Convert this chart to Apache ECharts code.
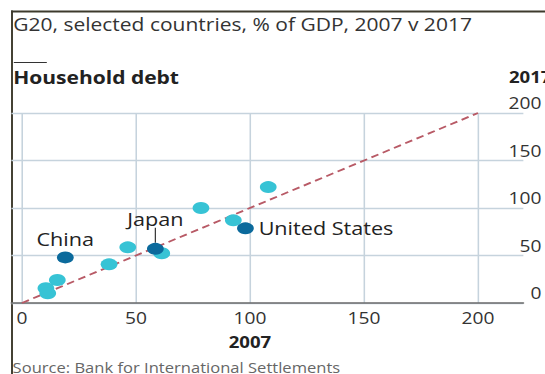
<!DOCTYPE html>
<html><head><meta charset="utf-8">
<script src="https://cdn.jsdelivr.net/npm/echarts@6/dist/echarts.min.js"></script>
<style>html,body{margin:0;padding:0;background:#fff;overflow:hidden}
#c{width:454px;height:374px;transform:scaleX(1.2004);transform-origin:0 0}</style>
</head><body><div id="c"></div>
<script>
// Data: household debt, % of GDP, x = 2007, y = 2017
const otherPoints = [
  [108, 122], [78.5, 100], [92.7, 87], [46.4, 58.6], [61.3, 52.3],
  [38.2, 40.7], [15.5, 24.2], [10.5, 15.5], [11.3, 10.2]
];
const namedCountries = ['China', 'Japan', 'United States'];
const named2007 = [19, 58.5, 98];
const named2017 = [48, 57, 78.6];
const xTicks = [0, 50, 100, 150, 200];
const yTicks = [0, 50, 100, 150, 200];
const parityLine = [[0, 0], [200, 200]];

const font = '"Open Sans", "Noto Sans", sans-serif';
const gridColor = '#c6d3dd';
const chart = echarts.init(document.getElementById('c'), null, {renderer: 'svg'});

const namedData = namedCountries.map((n, i) => {
  const d = {name: n, value: [named2007[i], named2017[i]]};
  if (n === 'China') d.label = {position: 'top', distance: 3};
  if (n === 'Japan') {
    d.label = {position: 'top', distance: 3};
    d.labelLine = {show: true, length2: 0, lineStyle: {color: '#333', width: 1}};
  }
  if (n === 'United States') d.label = {position: 'right', distance: 4};
  return d;
});

chart.setOption({
  animation: false,
  backgroundColor: '#fff',
  grid: [
    {left: 9.5, right: 8.3, top: 113, bottom: 71},
    {left: 18.3, right: 55.8, top: 113, bottom: 71}
  ],
  xAxis: [
    {gridIndex: 0, type: 'value', min: 0, max: 1, show: true,
     axisLine: {show: true, lineStyle: {color: '#6b6b6b', width: 1.5}},
     axisTick: {show: false}, axisLabel: {show: false}, splitLine: {show: false}},
    {gridIndex: 1, type: 'value', min: 0, max: 200, interval: 50,
     name: '2007', nameLocation: 'middle', nameGap: 31,
     nameTextStyle: {fontFamily: font, fontSize: 15.5, fontWeight: 'bold', color: '#222'},
     axisLine: {show: false}, axisTick: {show: false},
     axisLabel: {fontFamily: font, fontSize: 16, color: '#333', margin: 7,
       formatter: v => xTicks.includes(v) ? String(v) : ''},
     splitLine: {show: true, lineStyle: {color: gridColor, width: 1.3}}}
  ],
  yAxis: [
    {gridIndex: 0, type: 'value', min: 0, max: 200, interval: 50, position: 'right',
     axisLine: {show: false}, axisTick: {show: false},
     axisLabel: {fontFamily: font, fontSize: 16, color: '#333', align: 'right',
       verticalAlign: 'bottom', margin: 15, padding: [0, 0, 2, 0],
       formatter: v => yTicks.includes(v) ? String(v) : ''},
     splitLine: {show: true, lineStyle: {color: gridColor, width: 1.3}}},
    {gridIndex: 1, type: 'value', min: 0, max: 200, interval: 50, show: false,
     splitLine: {show: false}}
  ],
  graphic: [
    {type: 'rect', shape: {x: 9.2, y: 10.5, width: 450, height: 2}, style: {fill: '#3d3a2c'}},
    {type: 'rect', shape: {x: 9.2, y: 10.5, width: 1.6, height: 364}, style: {fill: '#3d3a2c'}},
    {type: 'rect', shape: {x: 11.5, y: 62, width: 27.5, height: 1}, style: {fill: '#333'}},
    {type: 'text', x: 11, y: 24, style: {text: 'G20, selected countries, % of GDP, 2007 v 2017', font: '17.5px ' + font, fill: '#333', verticalAlign: 'middle'}},
    {type: 'text', x: 11, y: 77, style: {text: 'Household debt', font: 'bold 17.5px ' + font, fill: '#222', verticalAlign: 'middle'}},
    {type: 'text', x: 424, y: 77, style: {text: '2017', font: 'bold 15.5px ' + font, fill: '#222', verticalAlign: 'middle'}},
    {type: 'text', x: 10.5, y: 367.5, style: {text: 'Source: Bank for International Settlements', font: '13.8px ' + font, fill: '#666', verticalAlign: 'middle'}}
  ],
  series: [
    {type: 'line', xAxisIndex: 1, yAxisIndex: 1, data: parityLine, symbol: 'none',
     lineStyle: {color: '#b85a66', width: 1.8, type: [6.5, 4]}, z: 2, silent: true},
    {type: 'scatter', xAxisIndex: 1, yAxisIndex: 1, data: otherPoints,
     symbol: 'circle', symbolSize: [14, 12], itemStyle: {color: '#37c3d5', opacity: 1}, z: 3},
    {type: 'scatter', xAxisIndex: 1, yAxisIndex: 1, data: namedData,
     symbol: 'circle', symbolSize: [14, 12], itemStyle: {color: '#0b6a9c', opacity: 1}, z: 4,
     label: {show: true, formatter: '{b}', fontFamily: font, fontSize: 18, color: '#222'},
     labelLine: {show: false, length2: 0, lineStyle: {color: '#333', width: 1}},
     labelLayout: p => p.dataIndex === 1 ? {dy: -12} : {}}
  ]
});
</script></body></html>
